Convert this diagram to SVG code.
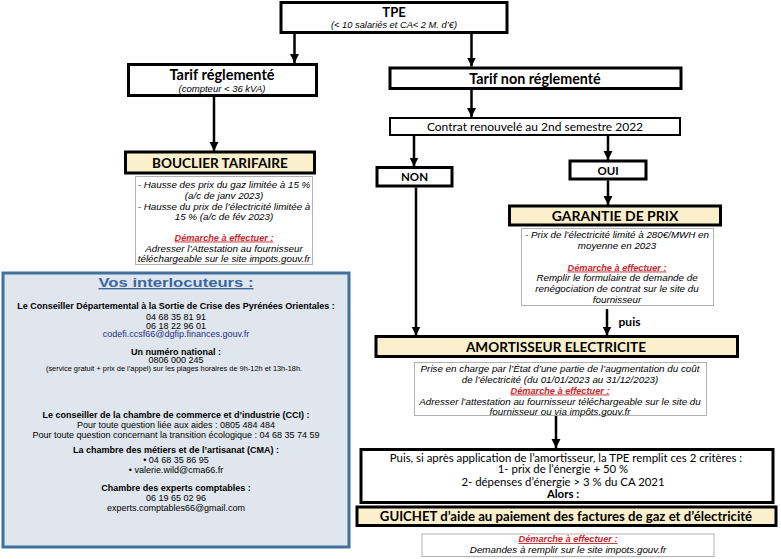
<svg xmlns="http://www.w3.org/2000/svg" width="781" height="559" viewBox="0 0 781 559">
<defs>
<marker id="ah" viewBox="0 0 10 10" refX="10" refY="5" markerWidth="9" markerHeight="10" markerUnits="userSpaceOnUse" orient="auto">
<path d="M0,0 L10,5 L0,10 z" fill="#000"/>
</marker>
</defs>
<style>
.box{fill:#fff;stroke:#000;stroke-width:3}
.thin{fill:#fff;stroke:#000;stroke-width:2}
.beige{fill:#fcf0cc;stroke:#000;stroke-width:3}
.note{fill:#fff;stroke:#b0b0b0;stroke-width:1}
.t{font-family:Lato,"Liberation Sans",sans-serif;text-anchor:middle;fill:#000}
.n{font-family:"Liberation Sans",Arial,sans-serif;font-style:italic;text-anchor:middle;fill:#000;font-size:9.8px}
.b{font-weight:bold}
.dem{font-family:"Liberation Sans",Arial,sans-serif;font-style:italic;font-weight:bold;fill:#c8282d;text-decoration:underline;text-anchor:middle;font-size:9.2px}
.a{font-family:"Liberation Sans",Arial,sans-serif;text-anchor:middle;fill:#000;font-size:9px}
.conn{stroke:#000;stroke-width:2.5;fill:none;marker-end:url(#ah)}
</style>
<rect width="781" height="559" fill="#fff"/>

<g id="tpe">
<rect class="box" x="281" y="2.5" width="226" height="30"/>
<text class="t b" x="394" y="17" font-size="13">TPE</text>
<text class="n" x="394" y="28" style="font-size:8.5px" textLength="126" lengthAdjust="spacingAndGlyphs">(&lt; 10 salariés et CA&lt; 2 M. d’€)</text>
</g>

<g id="tarif-reglemente">
<rect class="box" x="128.5" y="64.5" width="188" height="31"/>
<text class="t b" x="222" y="80" font-size="14.5">Tarif réglementé</text>
<text class="n" x="222" y="91.5" style="font-size:9.5px">(compteur &lt; 36 kVA)</text>
</g>

<g id="tarif-non-reglemente">
<rect class="box" x="390" y="68" width="291" height="20.5"/>
<text class="t b" x="535" y="83.5" font-size="14.3">Tarif non réglementé</text>
</g>

<g id="contrat">
<rect class="thin" x="390" y="118" width="290" height="17"/>
<text class="t" x="535" y="131" font-size="12">Contrat renouvelé au 2nd semestre 2022</text>
</g>

<g id="bouclier">
<rect class="beige" x="125.5" y="152" width="189" height="21"/>
<text class="t b" x="220" y="167.5" font-size="13.6">BOUCLIER TARIFAIRE</text>
</g>
<g id="bouclier-note">
<rect class="note" x="135.5" y="176.5" width="177" height="88"/>
<text class="n" x="224" y="187.5">- Hausse des prix du gaz limitée à 15 %</text>
<text class="n" x="224" y="198.5">(a/c de janv 2023)</text>
<text class="n" x="224" y="209.5">- Hausse du prix de l’électricité limitée à</text>
<text class="n" x="224" y="220">15 % (a/c de fév 2023)</text>
<text class="dem" x="224" y="240.5">Démarche à effectuer :</text>
<text class="n" x="224" y="251.5">Adresser l’Attestation au fournisseur</text>
<text class="n" x="224" y="262">téléchargeable sur le site impots.gouv.fr</text>
</g>

<g id="non">
<rect class="box" x="377" y="167.5" width="75" height="18.5"/>
<text class="t b" x="414.5" y="181" font-size="11.5">NON</text>
</g>

<g id="oui">
<rect class="box" x="570" y="161" width="76" height="18"/>
<text class="t b" x="608" y="174.5" font-size="11.5">OUI</text>
</g>

<g id="garantie">
<rect class="beige" x="509.5" y="206" width="211" height="19"/>
<text class="t b" x="615" y="220.5" font-size="14">GARANTIE DE PRIX</text>
</g>
<g id="garantie-note">
<rect class="note" x="521.5" y="228.5" width="192" height="77"/>
<text class="n" x="617" y="237.5">- Prix de l’électricité limité à 280€/MWH en</text>
<text class="n" x="617" y="248.5">moyenne en 2023</text>
<text class="dem" x="617" y="270.5">Démarche à effectuer :</text>
<text class="n" x="617" y="281">Remplir le formulaire de demande de</text>
<text class="n" x="617" y="292">renégociation de contrat sur le site du</text>
<text class="n" x="617" y="302.5">fournisseur</text>
</g>

<g id="amortisseur">
<rect class="beige" x="376" y="336.5" width="361.5" height="20"/>
<text class="t b" x="556" y="351.5" font-size="13.6">AMORTISSEUR ELECTRICITE</text>
</g>
<g id="amortisseur-note">
<rect class="note" x="414.5" y="362.5" width="292" height="53"/>
<text class="n" x="560" y="372">Prise en charge par l’État d’une partie de l’augmentation du coût</text>
<text class="n" x="560" y="383">de l’électricité (du 01/01/2023 au 31/12/2023)</text>
<text class="dem" x="560" y="393.5">Démarche à effectuer :</text>
<text class="n" x="560" y="404.5">Adresser l’attestation au fournisseur téléchargeable sur le site du</text>
<text class="n" x="560" y="415">fournisseur ou via impôts.gouv.fr</text>
</g>

<g id="criteres">
<rect class="box" x="361" y="449.5" width="412" height="53" stroke-width="4"/>
<text class="t" x="566" y="461.5" font-size="11.4">Puis, si après application de l’amortisseur, la TPE remplit ces 2 critères :</text>
<text class="t" x="563" y="473" font-size="11.4">1- prix de l’énergie + 50 %</text>
<text class="t" x="563" y="486" font-size="11.4">2- dépenses d’énergie &gt; 3 % du CA 2021</text>
<text class="t b" x="563" y="497.5" font-size="11.4">Alors :</text>
</g>

<g id="guichet">
<rect class="beige" x="357" y="507" width="419" height="18.5" stroke-width="3.5"/>
<text class="t b" x="566" y="521" font-size="13.2">GUICHET d’aide au paiement des factures de gaz et d’électricité</text>
</g>
<g id="guichet-note">
<rect class="note" x="422" y="534" width="292" height="22.5"/>
<text class="dem" x="568" y="542">Démarche à effectuer :</text>
<text class="n" x="568" y="552.5">Demandes à remplir sur le site impots.gouv.fr</text>
</g>

<g id="interlocuteurs">
<rect x="3" y="273" width="346" height="274" fill="#dfe6ed" stroke="#41709f" stroke-width="3"/>
<text x="176" y="287" font-family="Liberation Sans,Arial,sans-serif" font-size="13.5" font-weight="bold" fill="#3a66a0" text-anchor="middle" text-decoration="underline" textLength="155" lengthAdjust="spacingAndGlyphs">Vos interlocuteurs :</text>
<text class="a b" x="176" y="308.5">Le Conseiller Départemental à la Sortie de Crise des Pyrénées Orientales :</text>
<text class="a" x="176" y="320">04 68 35 81 91</text>
<text class="a" x="176" y="328.5">06 18 22 96 01</text>
<text class="a" x="176" y="337" style="fill:#1f2f88">codefi.ccsf66@dgfip.finances.gouv.fr</text>
<text class="a b" x="176" y="354.5">Un numéro national :</text>
<text class="a" x="176" y="363">0806 000 245</text>
<text class="a" x="174" y="371" style="font-size:7.4px">(service gratuit + prix de l’appel) sur les plages horaires de 9h-12h et 13h-18h.</text>
<text class="a b" x="176" y="418">Le conseiller de la chambre de commerce et d’industrie (CCI) :</text>
<text class="a" x="176" y="428">Pour toute question liée aux aides : 0805 484 484</text>
<text class="a" x="176" y="438">Pour toute question concernant la transition écologique : 04 68 35 74 59</text>
<text class="a b" x="176" y="453">La chambre des métiers et de l’artisanat (CMA) :</text>
<text class="a" x="176" y="463">• 04 68 35 86 95</text>
<text class="a" x="176" y="472.5">• valerie.wild@cma66.fr</text>
<text class="a b" x="176" y="491">Chambre des experts comptables :</text>
<text class="a" x="176" y="500.5">06 19 65 02 96</text>
<text class="a" x="176" y="511">experts.comptables66@gmail.com</text>
</g>

<g id="connectors">
<line class="conn" x1="294.5" y1="34" x2="294.5" y2="63"/>
<line class="conn" x1="471.5" y1="34" x2="471.5" y2="66.5"/>
<line class="conn" x1="214" y1="97" x2="214" y2="151"/>
<line class="conn" x1="471.5" y1="90" x2="471.5" y2="117"/>
<line class="conn" x1="414" y1="136" x2="414" y2="166.5"/>
<line class="conn" x1="608" y1="136" x2="608" y2="160"/>
<line class="conn" x1="608" y1="180.5" x2="608" y2="205"/>
<line class="conn" x1="416" y1="187.5" x2="416" y2="335.5"/>
<line class="conn" x1="607" y1="309" x2="607" y2="335.5"/>
<line class="conn" x1="556" y1="416" x2="556" y2="448"/>
<text class="t b" x="629.5" y="325.5" font-size="12">puis</text>
</g>
</svg>
